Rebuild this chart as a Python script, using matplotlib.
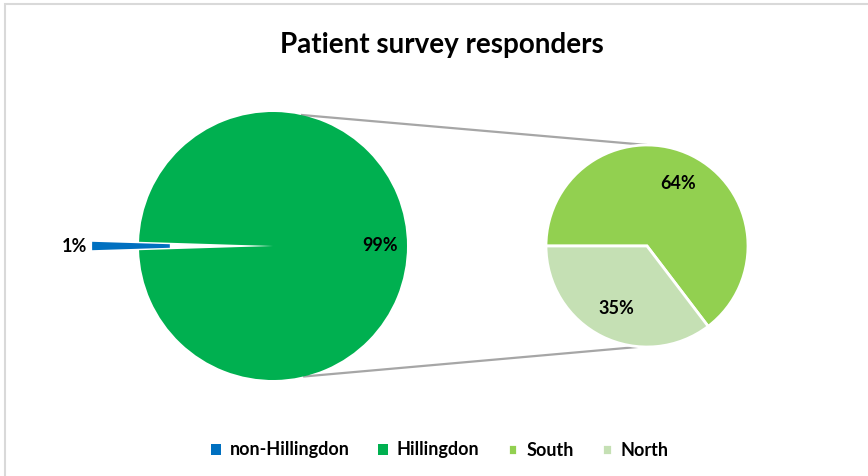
import numpy as np
import matplotlib
matplotlib.use('Agg')
import matplotlib.pyplot as plt
from matplotlib.patches import Rectangle

plt.rcParams['font.family'] = ['Lato', 'DejaVu Sans']

# data (share of all responders, %)
labels = ['non-Hillingdon', 'Hillingdon', 'South', 'North']
non_hill = 1
south = 64
north = 35
hill = south + north
total = non_hill + hill

colors = ['#0070C0', '#00B050', '#92D050', '#C5E0B4']

fig = plt.figure(figsize=(8.68, 4.76), dpi=100)
ax = fig.add_axes([0, 0, 1, 1])

# main pie
c1 = (273, 230)
r1 = 134
expl = 0.35 * r1   # pie explode is in data units
w1, t1, a1 = ax.pie([non_hill, hill], colors=colors[:2], center=c1, radius=r1,
                    startangle=180 - 180 * non_hill / total,
                    explode=[expl, 0], autopct='%1.0f%%', pctdistance=0.8,
                    textprops={'fontsize': 13, 'fontweight': 'bold'},
                    frame=True)
w1[0].set_width(r1 * 0.58)
a1[0].set_position((c1[0] - expl - 1.13 * r1, c1[1]))

# secondary pie (split of Hillingdon)
c2 = (647, 230)
r2 = 101
w2, t2, a2 = ax.pie([south, north], colors=colors[2:], center=c2, radius=r2,
                    startangle=180, counterclock=False,
                    autopct=lambda p: '{:.0f}%'.format(p * hill / total),
                    pctdistance=0.69,
                    wedgeprops={'edgecolor': 'white', 'linewidth': 2},
                    textprops={'fontsize': 13, 'fontweight': 'bold'},
                    frame=True)
ax.set_xlim(0, 868)
ax.set_ylim(0, 476)
ax.set_aspect('equal')
ax.axis('off')

# connector lines
for a_l, a_r in [(78, 90), (-77, -94)]:
    xs = [c1[0] + r1 * np.cos(np.radians(a_l)), c2[0] + r2 * np.cos(np.radians(a_r))]
    ys = [c1[1] + r1 * np.sin(np.radians(a_l)), c2[1] + r2 * np.sin(np.radians(a_r))]
    ax.plot(xs, ys, color='#A6A6A6', lw=1.6, solid_capstyle='butt', zorder=0)

# chart border
ax.add_patch(Rectangle((5, -20), 900, 492, fill=False, edgecolor='#D9D9D9', lw=1.5))

ax.text(442, 431, 'Patient survey responders', ha='center', va='center',
        fontsize=20, fontweight='bold')

ax.legend(handles=[w1[0], w1[1], w2[0], w2[1]], labels=labels, loc='center',
          bbox_to_anchor=(440 / 868, 1 - 450 / 476), ncol=4, frameon=False,
          handlelength=0.55, handleheight=0.55, handletextpad=0.5, columnspacing=1.55,
          prop={'size': 13, 'weight': 'bold'})

fig.savefig('out.png', dpi=100)
